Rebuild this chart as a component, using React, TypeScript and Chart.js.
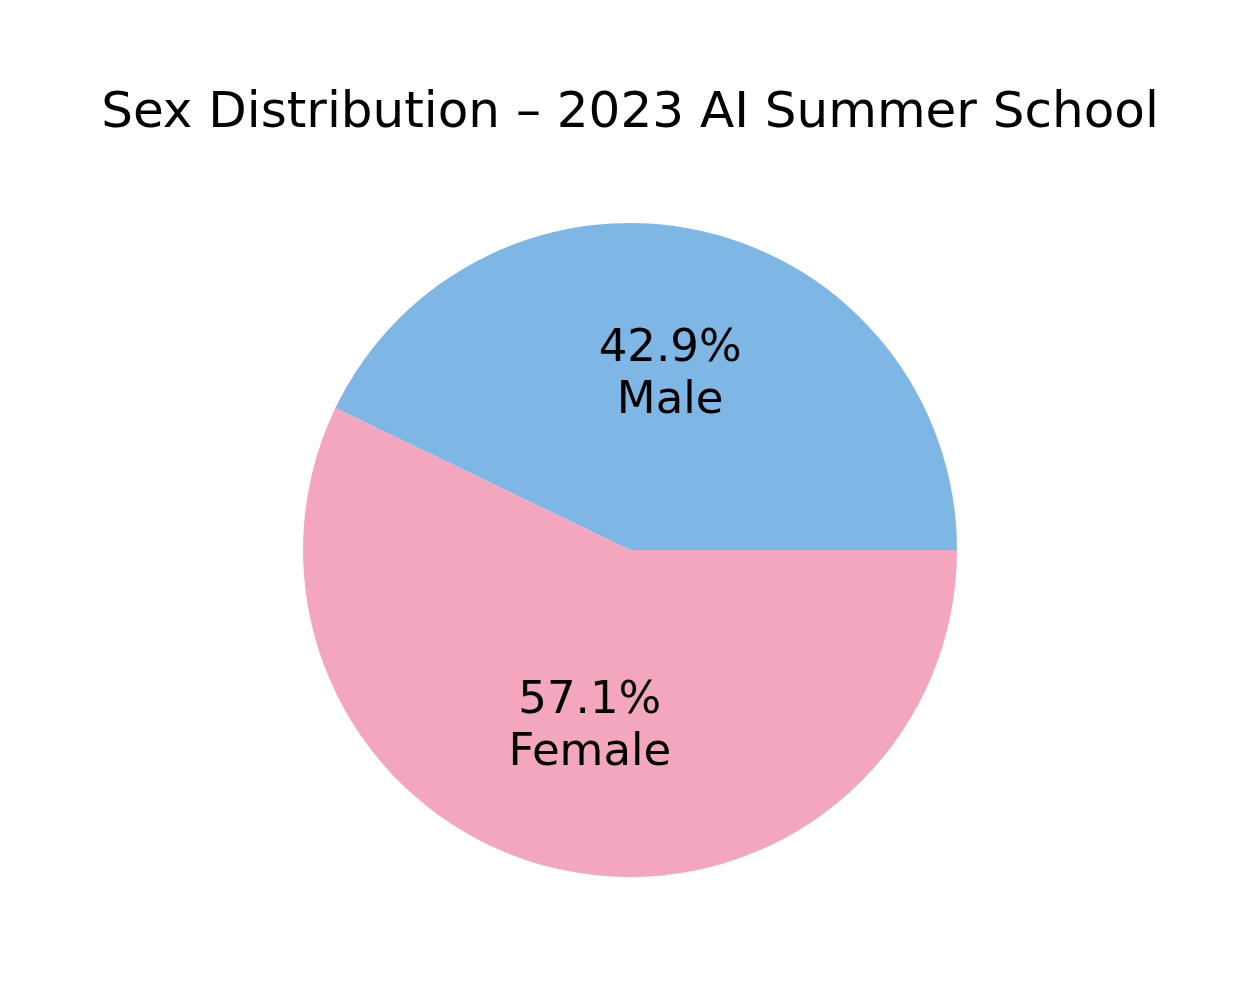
import React, { useEffect, useRef } from "react";
import { Chart, registerables } from "chart.js";

Chart.register(...registerables);

const categories = ["Male", "Female"];
const counts = [3, 4];
const colors = ["#7EB6E6", "#F4A6BF"];
const titleText = "Sex Distribution – 2023 AI Summer School";

const FONT = '"DejaVu Sans", sans-serif';

const labelPlugin = {
  id: "pieLabels",
  afterDraw(chart: any) {
    const ctx = chart.ctx;
    ctx.save();
    ctx.fillStyle = "#000";
    ctx.textAlign = "center";
    ctx.textBaseline = "alphabetic";
    ctx.font = `50px ${FONT}`;
    ctx.fillText(titleText, 630, 127);

    const meta = chart.getDatasetMeta(0);
    const total = counts.reduce((a, b) => a + b, 0);
    meta.data.forEach((arc: any, i: number) => {
      const p = arc.getProps(["x", "y", "startAngle", "endAngle", "outerRadius"], true);
      const mid = (p.startAngle + p.endAngle) / 2;
      const d = p.outerRadius * 0.552;
      const ax = p.x + Math.cos(mid) * d;
      const ay = p.y + Math.sin(mid) * d;
      const pct = ((counts[i] / total) * 100).toFixed(1) + "%";
      ctx.font = `45px ${FONT}`;
      ctx.fillText(pct, ax, ay - 13);
      ctx.fillText(categories[i], ax, ay + 39);
    });
    ctx.restore();
  },
};

export default function App() {
  const ref = useRef<HTMLCanvasElement | null>(null);
  useEffect(() => {
    document.body.style.margin = "0";
    const startDeg = -(counts[0] / (counts[0] + counts[1])) * 360;
    const chart = new Chart(ref.current!, {
      type: "pie",
      data: {
        labels: categories,
        datasets: [
          {
            data: counts,
            backgroundColor: colors,
            borderWidth: 0,
          },
        ],
      },
      options: {
        animation: false,
        responsive: false,
        rotation: startDeg + 90,
        layout: { padding: { top: 223, bottom: 123, left: 303, right: 303 } },
        plugins: {
          legend: { display: false },
          tooltip: { enabled: false },
          title: { display: false },
        },
      },
      plugins: [labelPlugin],
    });
    return () => chart.destroy();
  }, []);
  return (
    <div style={{ width: 1260, height: 1000, background: "#fff" }}>
      <canvas ref={ref} width={1260} height={1000} />
    </div>
  );
}
